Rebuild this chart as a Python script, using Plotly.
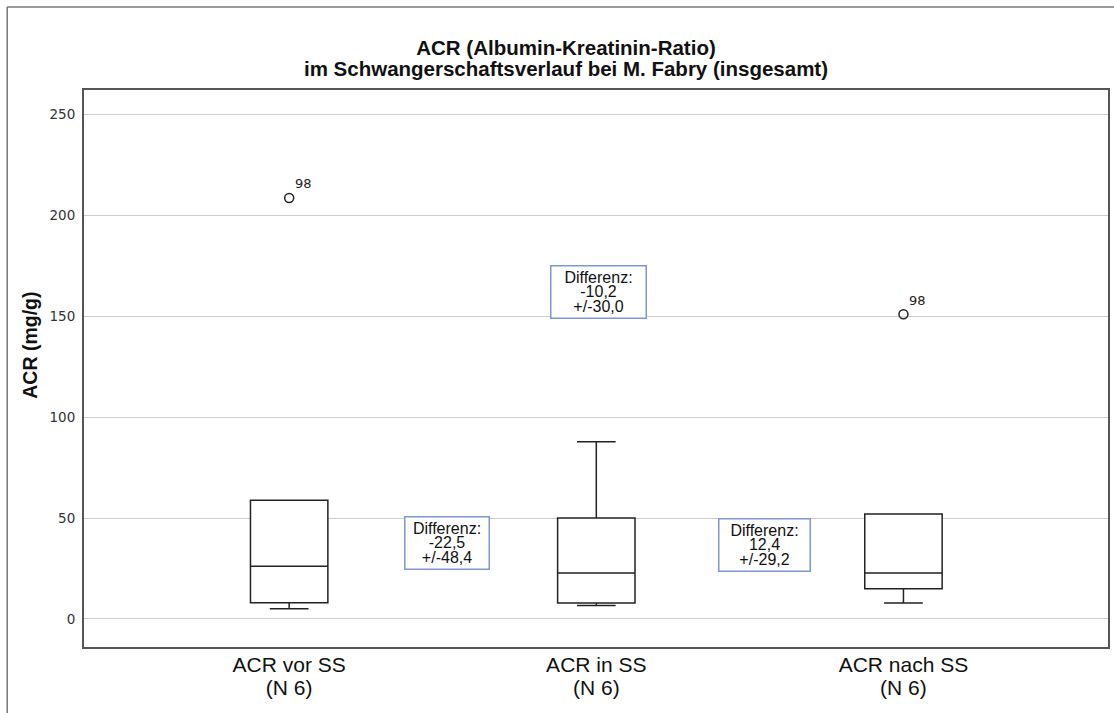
import plotly.graph_objects as go

# ---- data ----
categories = ["ACR vor SS", "ACR in SS", "ACR nach SS"]
n_labels = ["(N 6)", "(N 6)", "(N 6)"]
q1_vals = [8.0, 7.9, 15.0]
median_vals = [26.1, 22.8, 22.8]
q3_vals = [58.8, 50.0, 52.0]
lower_fence = [5.0, 6.7, 7.9]
upper_fence = [58.8, 87.9, 52.0]

outlier_cats = ["ACR vor SS", "ACR nach SS"]
outlier_vals = [208.7, 151.0]
outlier_ids = ["98", "98"]

diff_means = ["-22,5", "-10,2", "12,4"]
diff_sds = ["48,4", "30,0", "29,2"]

y_ticks = [0, 50, 100, 150, 200, 250]

FONT = "Liberation Sans, Arial, Helvetica, sans-serif"
TICKFONT = "DejaVu Sans, Verdana, sans-serif"

fig = go.Figure()

fig.add_trace(go.Box(
    x=categories,
    q1=q1_vals, median=median_vals, q3=q3_vals,
    lowerfence=lower_fence, upperfence=upper_fence,
    width=0.252, whiskerwidth=0.5,
    fillcolor="white",
    line=dict(color="#222222", width=1.5),
    boxpoints=False,
    hoverinfo="skip",
    showlegend=False,
))

fig.add_trace(go.Scatter(
    x=outlier_cats, y=outlier_vals,
    mode="markers",
    marker=dict(symbol="circle-open", size=9, color="#222222", line=dict(width=1.5)),
    hoverinfo="skip", showlegend=False,
))

# outlier case labels
for c, v, t in zip(outlier_cats, outlier_vals, outlier_ids):
    fig.add_annotation(x=c, y=v, text=t, showarrow=False,
                       xshift=14, yshift=14,
                       font=dict(family=TICKFONT, size=13, color="#222222"))

# difference boxes
diff_pos = [(0.514, 37.7, 79), (1.006, 162.0, 90), (1.546, 36.5, 86)]
for (px, py, w), m, s in zip(diff_pos, diff_means, diff_sds):
    txt = ("<span style='font-size:16px'>Differenz:</span><br>"
           f"<span style='font-size:16px'>{m}</span><br>"
           f"<span style='font-size:16px'>+/-{s}</span>")
    fig.add_annotation(x=px, y=py, text=txt, showarrow=False,
                       font=dict(family=FONT, size=11.5, color="#111111"),
                       bordercolor="#8096cf", borderwidth=1.5, borderpad=2,
                       bgcolor="white", width=w, align="center")

# y-axis title (placed like the reference, slightly above the plot centre)
fig.add_annotation(xref="paper", yref="paper", x=-0.053, y=(647 - 345) / 557,
                   text="<b>ACR (mg/g)</b>", textangle=-90, showarrow=False,
                   xanchor="center", yanchor="middle",
                   font=dict(family=FONT, size=19.5, color="#111111"))

ticktext = [f"<span style='font-size:21px'>{c}</span><br><span style='font-size:21px'>{n}</span>"
            for c, n in zip(categories, n_labels)]

fig.update_layout(
    width=1114, height=713,
    margin=dict(l=84, r=4, t=90, b=66),
    paper_bgcolor="white", plot_bgcolor="white",
    title=dict(
        text=("<span style='font-size:20.5px'>ACR (Albumin-Kreatinin-Ratio)</span><br>"
              "<span style='font-size:20.5px'>im Schwangerschaftsverlauf bei M. Fabry (insgesamt)</span>"),
        font=dict(family=FONT, size=16, color="#111111", weight="bold"),
        x=566 / 1114, xanchor="center", xref="container",
        y=1 - 55 / 713, yanchor="top", yref="container",
    ),
    xaxis=dict(
        type="category",
        range=[-0.668, 2.666],
        tickvals=categories, ticktext=ticktext,
        tickfont=dict(family=FONT, size=17, color="#111111"),
        showgrid=False, zeroline=False,
        showline=True, mirror=True, linecolor="#555555", linewidth=2,
        ticks="", ticklabelstandoff=3,
    ),
    yaxis=dict(
        range=[-13.9, 262.2],
        tickvals=y_ticks,
        tickfont=dict(family=TICKFONT, size=13.5, color="#333333"),
        showgrid=True, gridcolor="#cccccc", gridwidth=1,
        zeroline=False,
        showline=True, mirror=True, linecolor="#555555", linewidth=2,
        ticks="", ticklabelstandoff=4,
    ),
    shapes=[
        dict(type="line", xref="paper", yref="paper", x0=-0.075, x1=1.01,
             y0=1 + (90 - 7) / 557, y1=1 + (90 - 7) / 557,
             line=dict(color="#777777", width=1.5)),
        dict(type="line", xref="paper", yref="paper", x0=-0.075, x1=-0.075,
             y0=1 + (90 - 7) / 557, y1=-0.2,
             line=dict(color="#777777", width=1.5)),
    ],
    hovermode=False,
)

fig.write_html("out.html")
